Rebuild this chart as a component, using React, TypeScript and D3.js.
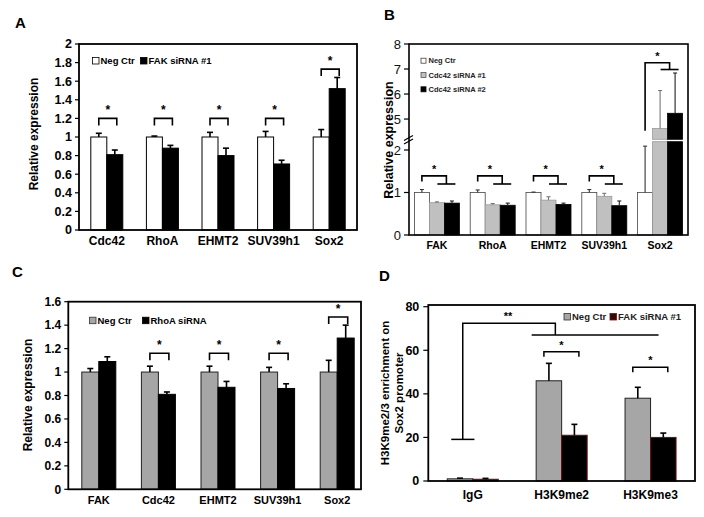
import React from "react";
import * as d3 from "d3";

const FONT = "'Liberation Sans', Arial, sans-serif";

// ---------- Panel A ----------
const catsA = ["Cdc42", "RhoA", "EHMT2", "SUV39h1", "Sox2"];
const negA = [1, 1, 1, 1, 1];
const negErrA = [0.04, 0.01, 0.05, 0.06, 0.08];
const fakA = [0.81, 0.88, 0.8, 0.71, 1.52];
const fakErrA = [0.05, 0.03, 0.08, 0.04, 0.12];
const sigA = [1.2, 1.2, 1.2, 1.2, 1.73];
const ticksA = [0, 0.2, 0.4, 0.6, 0.8, 1, 1.2, 1.4, 1.6, 1.8, 2];
const tickLabelsA = ["0", "0.2", "0.4", "0.6", "0.8", "1", "1.2", "1.4", "1.6", "1.8", "2"];

// ---------- Panel B ----------
const catsB = ["FAK", "RhoA", "EHMT2", "SUV39h1", "Sox2"];
const negB = [1, 1, 1, 1, 1];
const negErrB = [0.07, 0.06, 0.01, 0.07, 1.09];
const si1B = [0.76, 0.71, 0.82, 0.91, 4.62];
const si1ErrB = [0.02, 0.03, 0.08, 0.07, 1.52];
const si2B = [0.75, 0.7, 0.72, 0.69, 5.23];
const si2ErrB = [0.05, 0.05, 0.03, 0.11, 1.61];
const ticksBLow = [0, 1, 2];
const ticksBHigh = [5, 6, 7, 8];

// ---------- Panel C ----------
const catsC = ["FAK", "Cdc42", "EHMT2", "SUV39h1", "Sox2"];
const negC = [1, 1, 1, 1, 1];
const negErrC = [0.03, 0.05, 0.05, 0.04, 0.1];
const rhoC = [1.09, 0.81, 0.87, 0.86, 1.29];
const rhoErrC = [0.04, 0.02, 0.05, 0.04, 0.11];
const sigC = [null, 1.16, 1.16, 1.16, 1.47];
const ticksC = [0, 0.2, 0.4, 0.6, 0.8, 1, 1.2, 1.4, 1.6];
const tickLabelsC = ["0", "0.2", "0.4", "0.6", "0.8", "1", "1.2", "1.4", "1.6"];

// ---------- Panel D ----------
const catsD = ["IgG", "H3K9me2", "H3K9me3"];
const negD = [1.0, 46, 38];
const negErrD = [0.3, 8, 5];
const fakD = [0.8, 21, 20];
const fakErrD = [0.4, 5, 2];
const sigD = [null, 59.3, 52.2];
const ticksD = [0, 20, 40, 60, 80];

type Series = { values: number[]; errs: number[]; fill: string; stroke: string; errColor: string };

function ErrBar({ x, yTop, yEnd, color, cap, w }: any) {
  return (
    <g stroke={color} strokeWidth={w} fill="none">
      <line x1={x} x2={x} y1={yTop} y2={yEnd} />
      <line x1={x - cap / 2} x2={x + cap / 2} y1={yEnd} y2={yEnd} />
    </g>
  );
}

function GroupPanel(props: any) {
  const {
    frame, range, cats, domain, ticks, tickLabels, series, bw, sig, xLabelY, xFont, tickFont,
    cap, errW, yLabel, legend, legendY,
  } = props;
  const [x0, y0, x1, y1] = frame;
  const y = d3.scaleLinear().domain(domain).range([y1, y0]);
  const x = d3.scaleBand<string>().domain(cats).range(range);
  const n = series.length;
  return (
    <g fontFamily={FONT}>
      {series.map((s: Series, si: number) =>
        cats.map((c: string, i: number) => {
          const cx = (x(c) as number) + x.bandwidth() / 2;
          const bx = cx - (n * bw) / 2 + si * bw;
          const top = y(s.values[i]);
          return (
            <g key={c + si}>
              <rect x={bx} y={top} width={bw} height={y(0) - top} fill={s.fill} stroke={s.stroke} strokeWidth={1} />
              <ErrBar x={bx + bw / 2} yTop={top} yEnd={y(s.values[i] + s.errs[i])} color={s.errColor} cap={cap} w={errW} />
            </g>
          );
        })
      )}
      {sig &&
        cats.map((c: string, i: number) => {
          if (sig[i] == null) return null;
          const cx = (x(c) as number) + x.bandwidth() / 2;
          const l = cx - bw / 2;
          const r = cx + bw / 2 + 2;
          const t = y(sig[i]);
          return (
            <g key={"s" + c}>
              <path d={`M${l},${t + 7}V${t}H${r}V${t + 7}`} fill="none" stroke="#000" strokeWidth={1.6} />
              <text x={(l + r) / 2} y={t - 4} textAnchor="middle" fontSize={12} fontWeight="bold">*</text>
            </g>
          );
        })}
      <rect x={x0} y={y0} width={x1 - x0} height={y1 - y0} fill="none" stroke="#000" strokeWidth={1.8} />
      {ticks.map((t: number, i: number) => (
        <g key={"t" + i}>
          <line x1={x0 - 4} x2={x0} y1={y(t)} y2={y(t)} stroke="#000" strokeWidth={1.2} />
          <text x={x0 - 7} y={y(t)} dy="0.35em" textAnchor="end" fontSize={tickFont} fontWeight="bold">
            {tickLabels[i]}
          </text>
        </g>
      ))}
      {cats.map((c: string) => (
        <text key={"x" + c} x={(x(c) as number) + x.bandwidth() / 2} y={xLabelY} textAnchor="middle" fontSize={xFont} fontWeight="bold">
          {c}
        </text>
      ))}
      {yLabel}
      {legend.map((L: any, i: number) => (
        <g key={"L" + i}>
          <rect x={L.x} y={legendY - 3.5} width={6.5} height={6.5} fill={L.fill} stroke={L.stroke} strokeWidth={0.8} />
          <text x={L.x + 8} y={legendY} dy="0.35em" fontSize={9.5} fontWeight="bold">{L.label}</text>
        </g>
      ))}
    </g>
  );
}

function PanelB() {
  const x0 = 409, x1 = 688, y0 = 44, y1 = 235;
  const yLow = d3.scaleLinear().domain([0, 2.195]).range([235, 141.7]);
  const yHigh = d3.scaleLinear().domain([4.19, 8]).range([139.3, 44]);
  const yv = (v: number) => (v <= 2.195 ? yLow(v) : yHigh(v));
  const x = d3.scaleBand<string>().domain(catsB).range([x0, x1]);
  const bw = 15;
  const ser = [
    { values: negB, errs: negErrB, fill: "#fff", stroke: "#444", err: "#333" },
    { values: si1B, errs: si1ErrB, fill: "#c0c0c0", stroke: "#999", err: "#777" },
    { values: si2B, errs: si2ErrB, fill: "#000", stroke: "#000", err: "#222" },
  ];
  const legendRows = [
    { label: "Neg Ctr", fill: "#fff", stroke: "#444", y: 60.7 },
    { label: "Cdc42 siRNA #1", fill: "#c0c0c0", stroke: "#555", y: 75 },
    { label: "Cdc42 siRNA #2", fill: "#000", stroke: "#000", y: 89.3 },
  ];
  return (
    <g fontFamily={FONT}>
      {ser.map((s, si) =>
        catsB.map((c, i) => {
          const cx = (x(c) as number) + x.bandwidth() / 2;
          const bx = cx - 1.5 * bw + si * bw;
          const v = s.values[i];
          const ev = v + s.errs[i];
          const broken = v > 2.195;
          return (
            <g key={c + si}>
              {broken ? (
                <>
                  <rect x={bx} y={yLow(2.195)} width={bw} height={yLow(0) - yLow(2.195)} fill={s.fill} stroke={s.stroke} strokeWidth={0.8} />
                  <rect x={bx} y={yHigh(v)} width={bw} height={yHigh(4.19) - yHigh(v)} fill={s.fill} stroke={s.stroke} strokeWidth={0.8} />
                </>
              ) : (
                <rect x={bx} y={yLow(v)} width={bw} height={yLow(0) - yLow(v)} fill={s.fill} stroke={s.stroke} strokeWidth={0.8} />
              )}
              <ErrBar x={bx + bw / 2} yTop={yv(v)} yEnd={yv(ev)} color={s.err} cap={4} w={1.1} />
            </g>
          );
        })
      )}
      {catsB.map((c, i) => {
        const cx = (x(c) as number) + x.bandwidth() / 2;
        const lx = cx - bw;
        const px = cx + bw / 2;
        const last = i === catsB.length - 1;
        const top = last ? yHigh(7.25) : yLow(1.39);
        const lb = last ? yHigh(4.53) : yLow(1.26);
        const tb = last ? yHigh(6.98) : yLow(1.2);
        return (
          <g key={"b" + c} stroke="#000" strokeWidth={1.6} fill="none">
            <path d={`M${lx},${lb}V${top}H${px + 2}V${tb}`} />
            <line x1={px + 2 - 9} x2={px + 2 + 9} y1={tb} y2={tb} />
            <text x={(lx + px) / 2 + 1} y={top - 3} textAnchor="middle" fontSize={11} fontWeight="bold" stroke="none" fill="#000">*</text>
          </g>
        );
      })}
      <rect x={x0} y={y0} width={x1 - x0} height={y1 - y0} fill="none" stroke="#000" strokeWidth={1.6} />
      <g stroke="#000" strokeWidth={1.1}>
        <line x1={x0 - 5} x2={x0 + 4} y1={140.5} y2={135.5} />
        <line x1={x0 - 5} x2={x0 + 4} y1={144} y2={139} />
      </g>
      {ticksBLow.map((t) => (
        <g key={"tl" + t}>
          <line x1={x0 - 5} x2={x0} y1={yLow(t)} y2={yLow(t)} stroke="#000" strokeWidth={1.2} />
          <text x={x0 - 8} y={yLow(t)} dy="0.35em" textAnchor="end" fontSize={13} fill="#111">{t}</text>
        </g>
      ))}
      {ticksBHigh.map((t) => (
        <g key={"th" + t}>
          <line x1={x0 - 5} x2={x0} y1={yHigh(t)} y2={yHigh(t)} stroke="#000" strokeWidth={1.2} />
          <text x={x0 - 8} y={yHigh(t)} dy="0.35em" textAnchor="end" fontSize={13} fill="#111">{t}</text>
        </g>
      ))}
      {catsB.map((c) => (
        <text key={"x" + c} x={(x(c) as number) + x.bandwidth() / 2} y={249} textAnchor="middle" fontSize={10.5} fontWeight="bold">{c}</text>
      ))}
      <text transform={`translate(393,140) rotate(-90)`} textAnchor="middle" fontSize={12.5} fontWeight="bold">Relative expression</text>
      {legendRows.map((L) => (
        <g key={L.label}>
          <rect x={421} y={L.y - 2.5} width={5} height={5} fill={L.fill} stroke={L.stroke} strokeWidth={0.8} />
          <text x={428.5} y={L.y} dy="0.35em" fontSize={7.5} fontWeight="bold" fill="#222">{L.label}</text>
        </g>
      ))}
    </g>
  );
}

function PanelD() {
  const x0 = 428.3, x1 = 695, y0 = 306.7, y1 = 481;
  const y = d3.scaleLinear().domain([0, 80]).range([y1, y0]);
  const x = d3.scaleBand<string>().domain(catsD).range([x0, x1]);
  const bw = 25.5;
  const ser = [
    { values: negD, errs: negErrD, fill: "#a6a6a6", stroke: "#222" },
    { values: fakD, errs: fakErrD, fill: "#000", stroke: "#6b1010" },
  ];
  const cx = (c: string) => (x(c) as number) + x.bandwidth() / 2;
  const igg = cx("IgG");
  const me2 = cx("H3K9me2");
  const me3 = cx("H3K9me3");
  return (
    <g fontFamily={FONT}>
      {ser.map((s, si) =>
        catsD.map((c, i) => {
          const bx = cx(c) - bw + si * bw;
          const top = y(s.values[i]);
          return (
            <g key={c + si}>
              <rect x={bx} y={top} width={bw} height={y(0) - top} fill={s.fill} stroke={s.stroke} strokeWidth={1} />
              <ErrBar x={bx + bw / 2} yTop={top} yEnd={y(s.values[i] + s.errs[i])} color="#000" cap={6} w={1.6} />
            </g>
          );
        })
      )}
      <g stroke="#000" strokeWidth={1.5} fill="none">
        <line x1={igg - 21.5} x2={igg + 1.7} y1={y(19.1)} y2={y(19.1)} />
        <path d={`M${igg - 10},${y(19.1)}V${y(72.4)}H${me2 - 6.3}V${y(67)}`} />
        <line x1={me2 - 30} x2={me3 + 8} y1={y(67)} y2={y(67)} />
      </g>
      <text x={(igg - 10 + me2 - 6.3) / 2 - 1} y={y(72.4) - 3} textAnchor="middle" fontSize={11} fontWeight="bold">**</text>
      {catsD.map((c, i) => {
        if (sigD[i] == null) return null;
        const l = cx(c) - bw / 2 - 5;
        const r = cx(c) + bw / 2 + 4.5;
        const t = y(sigD[i] as number);
        return (
          <g key={"s" + c}>
            <path d={`M${l},${t + 5}V${t}H${r}V${t + 5}`} fill="none" stroke="#000" strokeWidth={1.5} />
            <text x={(l + r) / 2} y={t - 3} textAnchor="middle" fontSize={11} fontWeight="bold">*</text>
          </g>
        );
      })}
      <rect x={x0} y={y0 - 1.7} width={x1 - x0} height={y1 - y0 + 1.7} fill="none" stroke="#000" strokeWidth={1.8} />
      {ticksD.map((t) => (
        <g key={"t" + t}>
          <line x1={x0 - 5} x2={x0} y1={y(t)} y2={y(t)} stroke="#000" strokeWidth={1.2} />
          <text x={x0 - 9} y={y(t)} dy="0.35em" textAnchor="end" fontSize={12.5} fontWeight="bold">{t}</text>
        </g>
      ))}
      {catsD.map((c) => (
        <text key={"x" + c} x={cx(c)} y={499} textAnchor="middle" fontSize={12} fontWeight="bold">{c}</text>
      ))}
      <text transform={`translate(389,393) rotate(-90)`} textAnchor="middle" fontSize={11.5} fontWeight="bold">
        <tspan x={0} dy={0}>H3K9me2/3 enrichment on</tspan>
        <tspan x={0} dy={13.5}>Sox2 promoter</tspan>
      </text>
      <rect x={564} y={313.5} width={6.5} height={6.5} fill="#a6a6a6" stroke="#333" strokeWidth={0.8} />
      <text x={572} y={316.7} dy="0.35em" fontSize={9.5} fontWeight="bold" fill="#222">Neg Ctr</text>
      <rect x={610} y={313.5} width={6.5} height={6.5} fill="#3a0505" stroke="#6b1010" strokeWidth={0.8} />
      <text x={618} y={316.7} dy="0.35em" fontSize={9.5} fontWeight="bold" fill="#222">FAK siRNA #1</text>
    </g>
  );
}

export default function App() {
  const yLabelA = (
    <text transform={`translate(38,134) rotate(-90)`} textAnchor="middle" fontSize={12} fontWeight="bold">Relative expression</text>
  );
  const yLabelC = (
    <text transform={`translate(32,395) rotate(-90)`} textAnchor="middle" fontSize={12} fontWeight="bold">Relative expression</text>
  );
  return (
    <svg width={704} height={517} style={{ position: "absolute", left: 0, top: 0, background: "#fff" }} fontFamily={FONT}>
      <rect width={704} height={517} fill="#fff" />
      <GroupPanel
        frame={[79, 44, 357, 230]}
        range={[79, 357]}
        cats={catsA}
        domain={[0, 2]}
        ticks={ticksA}
        tickLabels={tickLabelsA}
        series={[
          { values: negA, errs: negErrA, fill: "#fff", stroke: "#000", errColor: "#000" },
          { values: fakA, errs: fakErrA, fill: "#000", stroke: "#000", errColor: "#000" },
        ]}
        bw={16}
        sig={sigA}
        xLabelY={245}
        xFont={12}
        tickFont={12.5}
        cap={6}
        errW={1.6}
        yLabel={yLabelA}
        legend={[
          { x: 92.5, label: "Neg Ctr", fill: "#fff", stroke: "#000" },
          { x: 140.5, label: "FAK siRNA #1", fill: "#000", stroke: "#000" },
        ]}
        legendY={61}
      />
      <PanelB />
      <GroupPanel
        frame={[68.3, 301.7, 361, 489.3]}
        range={[69, 367]}
        cats={catsC}
        domain={[0, 1.6]}
        ticks={ticksC}
        tickLabels={tickLabelsC}
        series={[
          { values: negC, errs: negErrC, fill: "#a6a6a6", stroke: "#222", errColor: "#000" },
          { values: rhoC, errs: rhoErrC, fill: "#000", stroke: "#000", errColor: "#000" },
        ]}
        bw={17}
        sig={sigC}
        xLabelY={504}
        xFont={11}
        tickFont={12}
        cap={6}
        errW={1.6}
        yLabel={yLabelC}
        legend={[
          { x: 89.5, label: "Neg Ctr", fill: "#a6a6a6", stroke: "#333" },
          { x: 142.5, label: "RhoA siRNA", fill: "#000", stroke: "#000" },
        ]}
        legendY={320.7}
      />
      <PanelD />
      <text x={15} y={28} fontSize={15} fontWeight="bold">A</text>
      <text x={384} y={20} fontSize={15} fontWeight="bold">B</text>
      <text x={12} y={277} fontSize={15} fontWeight="bold">C</text>
      <text x={379} y={281} fontSize={15} fontWeight="bold">D</text>
    </svg>
  );
}
